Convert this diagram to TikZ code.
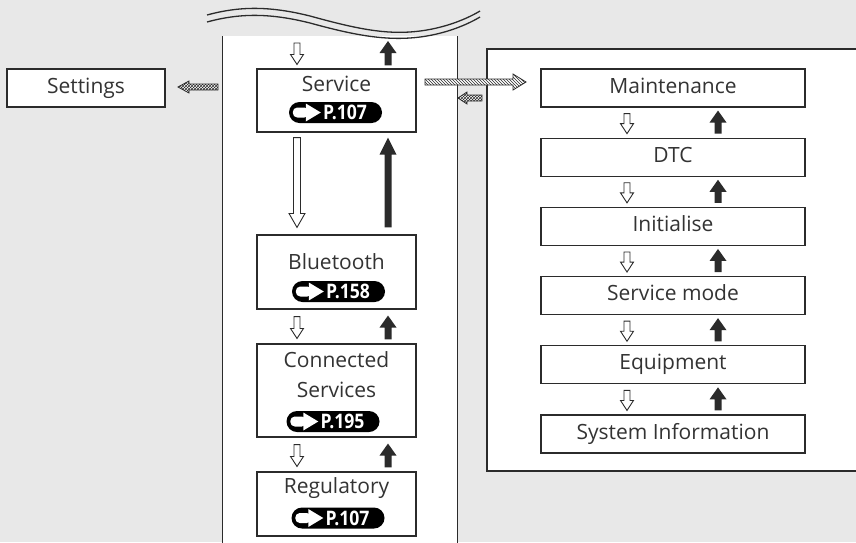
\documentclass[tikz,border=0pt]{standalone}
\usepackage{fontspec}
\setmainfont{Open Sans}
\usepackage{graphicx}
\usetikzlibrary{calc,patterns}
\definecolor{bg}{HTML}{E8E8E8}
\definecolor{ink}{HTML}{2B2B2B}
\definecolor{txt}{HTML}{333333}
\tikzset{
  menubox/.style={draw=ink, line width=1.1pt, fill=white, text=txt, inner sep=0pt,
    font=\fontsize{21}{23}\selectfont, text height=15pt, text depth=5pt},
  lbl/.style={text=txt, inner sep=0pt, anchor=base, font=\fontsize{21}{23}\selectfont},
  pill/.style={fill=black, rounded corners=10.5pt, minimum width=93pt, minimum height=21pt,
    inner sep=0pt, text=white, font=\bfseries\fontsize{20}{20}\selectfont},
  holl/.style={draw=ink, line width=0.9pt, fill=white, line join=miter},
  blackarr/.style={fill=ink, draw=none},
  hatcharr/.style={draw=ink, line width=0.8pt, fill=white,
    postaction={pattern=north west lines, pattern color=ink}},
  dotarr/.style={draw=ink, line width=0.8pt, fill=white,
    postaction={pattern=crosshatch, pattern color=ink}},
  bordr/.style={draw=ink, line width=1pt},
}
% vertical block arrow: style, tail, tip, half shaft, head length, half head
\newcommand\varr[6]{\path[#1] let \p1=#2, \p2=#3, \n2={\y2-sign(\y2-\y1)*#5} in
  (\x1-#4,\y1) -- (\x1-#4,\n2*1pt) -- (\x1-#6,\n2*1pt) -- (\x1,\y2) --
  (\x1+#6,\n2*1pt) -- (\x1+#4,\n2*1pt) -- (\x1+#4,\y1) -- cycle;}
% horizontal block arrow
\newcommand\harr[6]{\path[#1] let \p1=#2, \p2=#3, \n2={\x2-sign(\x2-\x1)*#5} in
  (\x1,\y1-#4) -- (\n2*1pt,\y1-#4) -- (\n2*1pt,\y1-#6) -- (\x2,\y1) --
  (\n2*1pt,\y1+#6) -- (\n2*1pt,\y1+#4) -- (\x1,\y1+#4) -- cycle;}
\newcommand\pillnode[3]{% name, position, text
  \node[pill] (#1) at #2 {\hspace*{19pt}\scalebox{0.88}[1]{#3}};
  \fill[white, rounded corners=4.5pt] ($(#1.west)+(4,-5)$) rectangle ($(#1.west)+(20,5)$);
  \fill[white] ($(#1.west)+(17,-9)$) -- ($(#1.west)+(32,0)$) -- ($(#1.west)+(17,9)$) -- cycle;}
\begin{document}
\begin{tikzpicture}[x=1pt,y=-1pt]
\useasboundingbox (0,0) rectangle (856,542);
\fill[bg] (0,0) rectangle (856,542);
% central column
\fill[white] (222,36) rectangle (457,542);
\draw[bordr] (222,36) -- (222,543);
\draw[bordr] (457,36) -- (457,543);
% wavy break
\draw[ink, line width=1.3pt] (207,15) .. controls (240,6) and (270,6) .. (310,16)
  .. controls (350,27) and (380,34) .. (410,32) .. controls (440,30) and (465,20) .. (480,11);
\draw[ink, line width=1.3pt] (207,22) .. controls (240,13) and (270,13) .. (310,23)
  .. controls (350,34) and (380,40) .. (410,38) .. controls (440,36) and (465,26) .. (480,17);
% right panel
\fill[white] (487,49) rectangle (860,471);
\draw[bordr, line width=1.2pt] (860,49) -- (487,49) -- (487,471) -- (860,471);

% settings
\node[menubox, minimum width=158pt, minimum height=38pt] (set) at (86,88) {Settings};

% column boxes
\node[menubox, minimum width=159pt, minimum height=63pt] (svc) at (336.5,100.5) {};
\node[menubox, minimum width=159pt, minimum height=74pt] (bt) at (336.5,272) {};
\node[menubox, minimum width=159pt, minimum height=93pt] (cs) at (336.5,390.5) {};
\node[menubox, minimum width=159pt, minimum height=64pt] (reg) at (336.5,504) {};
\node[lbl] (svct) at (336.5,91) {Service};
\node[lbl] (btt) at (336.5,269) {Bluetooth};
\node[lbl] (cst1) at (336.5,367) {Connected};
\node[lbl] (cst2) at (336.5,397) {Services};
\node[lbl] (regt) at (336.5,493) {Regulatory};
\pillnode{pa}{(335.5,112.5)}{P.107}
\pillnode{pb}{(338.5,291.5)}{P.158}
\pillnode{pc}{(333,421.5)}{P.195}
\pillnode{pd}{(338,518)}{P.107}

% right boxes
\foreach \n/\t/\y in {m1/Maintenance/88, m2/DTC/157.2, m3/Initialise/226.4,
  m4/Service mode/295.6, m5/Equipment/364.8, m6/System Information/434}
  \node[menubox, minimum width=264pt, minimum height=38pt] (\n) at (673,\y) {\t};

% column references
\coordinate (cx1) at (297,0);
\coordinate (cx2) at (388,0);
\coordinate (rx1) at (627,0);
\coordinate (rx2) at (718,0);
\coordinate (ctop) at (0,43);

% arrows above Service
\varr{holl}{(ctop -| cx1)}{($(svc.north -| cx1)+(0,-4)$)}{3pt}{10pt}{6.5pt}
\varr{blackarr}{($(svc.north -| cx2)+(0,-3)$)}{($(ctop -| cx2)+(0,-2)$)}{3.5pt}{12pt}{8.5pt}
% long arrows Service <-> Bluetooth
\varr{holl}{($(svc.south -| cx1)+(0,5)$)}{($(bt.north -| cx1)+(0,-7)$)}{3.5pt}{14pt}{8pt}
\varr{blackarr}{($(bt.north -| cx2)+(0,-7)$)}{($(svc.south -| cx2)+(0,5)$)}{3.5pt}{17pt}{8.5pt}
% short arrows in column
\foreach \a/\b in {bt/cs, cs/reg} {
  \varr{holl}{($(\a.south -| cx1)+(0,7)$)}{($(\b.north -| cx1)+(0,-5)$)}{3pt}{10pt}{6.5pt}
  \varr{blackarr}{($(\b.north -| cx2)+(0,-4)$)}{($(\a.south -| cx2)+(0,6)$)}{3.5pt}{12pt}{8.5pt}
}
% short arrows in right panel
\foreach \a/\b in {m1/m2, m2/m3, m3/m4, m4/m5, m5/m6} {
  \varr{holl}{($(\a.south -| rx1)+(0,6)$)}{($(\b.north -| rx1)+(0,-4)$)}{3pt}{10pt}{6.5pt}
  \varr{blackarr}{($(\b.north -| rx2)+(0,-4)$)}{($(\a.south -| rx2)+(0,3)$)}{3.5pt}{12pt}{8.5pt}
}
% horizontal arrows
\coordinate (hA) at (425,82);
\coordinate (hB) at (526,82);
\harr{hatcharr}{(hA)}{(hB)}{3pt}{13pt}{8pt}
\coordinate (cA) at (482,98);
\coordinate (cB) at (458,98);
\harr{dotarr}{(cA)}{(cB)}{3pt}{9pt}{6pt}
\coordinate (sA) at (218,87);
\coordinate (sB) at (178,87);
\harr{dotarr}{(sA)}{(sB)}{3pt}{11pt}{6pt}
\end{tikzpicture}
\end{document}
